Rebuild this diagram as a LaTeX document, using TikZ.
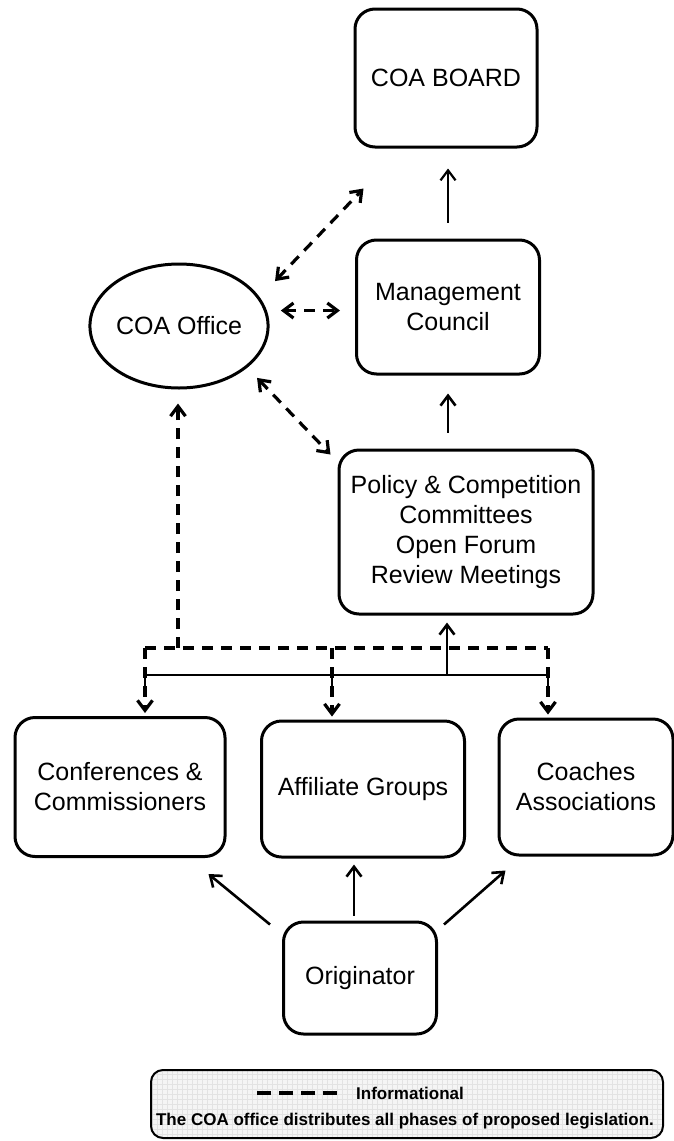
\documentclass[tikz,border=0pt]{standalone}
\usepackage{fontspec}
\setmainfont{Liberation Sans}
\usetikzlibrary{arrows.meta,shapes.geometric}
\tikzset{box/.style={draw, line width=1.5pt, rounded corners=10pt, align=center, inner sep=0pt, font=\fontsize{12.5}{15}\selectfont},
  flow/.style={line width=1.3pt, ->},
  info/.style={line width=1.6pt, dash pattern=on 5.5pt off 4pt},
  >={Straight Barb[length=5pt,width=7.5pt]}}

\begin{document}
\begin{tikzpicture}[x=0.5pt, y=-0.5pt]
    \useasboundingbox (0,0) rectangle (674,1141);
    \node [box, minimum width=91pt, minimum height=69pt] (board) at (446,78) {COA BOARD};
    \node [box, minimum width=91.5pt, minimum height=67pt] (council) at (448,307) {Management\\Council};
    \node [box, minimum width=127pt, minimum height=82pt] (policy) at (466,532) {Policy \& Competition\\Committees\\Open Forum\\Review Meetings};
    \node [box, ellipse, minimum width=84pt, minimum height=62pt] (office) at (179,326) {COA Office};
    \node [box, minimum width=105pt, minimum height=69.5pt] (conf) at (120,787) {Conferences \&\\Commissioners};
    \node [box, minimum width=101.5pt, minimum height=68pt] (affil) at (363,789) {Affiliate Groups};
    \node [box, minimum width=87pt, minimum height=68pt] (coach) at (586,787) {Coaches\\Associations};
    \node [box, minimum width=76.5pt, minimum height=56pt] (orig) at (360,978) {Originator};
    % upward flow
    \draw [flow, line width=1.1pt, shorten <=8pt, shorten >=10pt] (council.north) -- (council.north |- board.south);
    \draw [flow, shorten <=8pt, shorten >=9pt] (policy.north -| council.south) -- (council.south);
    \coordinate (om) at ([xshift=-3pt]orig.north);
    \draw [flow, shorten <=2.5pt, shorten >=3pt] (om) -- (om |- affil.south);
    \draw [flow] ([shift={(-6pt,-2pt)}]orig.north west) -- ([shift={(-9pt,-8pt)}]conf.south east);
    \draw [flow] ([shift={(3pt,-2pt)}]orig.north east) -- ([shift={(4pt,-7pt)}]coach.south west);
    % informational links of the office
    \draw [info, <->] ([xshift=16pt]office.north east) -- ([shift={(5pt,-20pt)}]board.south west);
    \draw [info, <->, shorten <=7pt, shorten >=7.5pt] (office.10) -- (office.10 -| council.west);
    \draw [info, <->] ([shift={(7pt,-3.5pt)}]office.south east) -- ([shift={(-3.5pt,-3pt)}]policy.north west);
    % buses
    \coordinate (d0) at (178,648);
    \coordinate (sp) at (447,675);
    \foreach \n/\x in {conf/145, affil/332, coach/548} {
      \coordinate (d\n) at (\x,648);
      \coordinate (s\n) at (\x,675);
    }
    \draw [info] (dconf) -- (dcoach);
    \draw [info, ->, shorten >=7pt] (d0) -- (d0 |- office.south);
    \foreach \n in {conf, affil, coach} {
      \draw [info, ->, shorten >=1.5pt] (d\n) -- (d\n |- \n.north);
      \draw [line width=1.4pt] (s\n) -- ++(0,13);
    }
    \draw [line width=1.4pt] (sconf) -- (scoach);
    \draw [flow, shorten >=3.5pt] (sp) -- (sp |- policy.south);
    % legend
    \node [draw, line width=1pt, rounded corners=6pt, fill=gray!8, minimum width=256pt, minimum height=34pt,
      path picture={\draw [gray!22, line width=0.2pt] (path picture bounding box.south west) grid [step=2.5pt] (path picture bounding box.north east);}] (legend) at (407,1104) {};
    \node [font=\bfseries\fontsize{8.5}{10}\selectfont] (key) at (410,1093) {Informational};
    \node [font=\bfseries\fontsize{8.5}{10}\selectfont] (note) at (405,1121) {The COA office distributes all phases of proposed legislation.};
    \draw [line width=2pt, dash pattern=on 7pt off 4pt] ([xshift=-6pt]key.west) -- ++(-40pt,0);
\end{tikzpicture}
\end{document}
